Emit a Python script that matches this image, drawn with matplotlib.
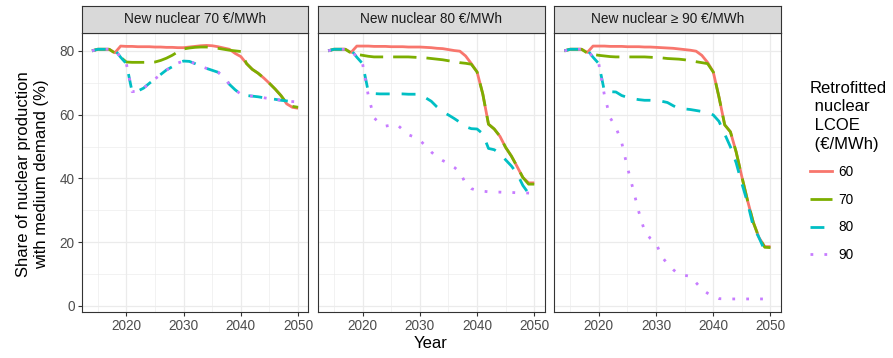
import matplotlib.pyplot as plt
from matplotlib.lines import Line2D
from matplotlib.ticker import MultipleLocator

plt.rcParams['font.family'] = ['Liberation Sans', 'DejaVu Sans']

years = list(range(2014, 2051))
panel_titles = ['New nuclear 70 €/MWh', 'New nuclear 80 €/MWh', 'New nuclear ≥ 90 €/MWh']
retrofit_labels = ['60', '70', '80', '90']

# new nuclear 70 €/MWh
p70_r60 = [80.0, 80.5, 80.5, 80.5, 79.4, 81.5,
           81.4, 81.4, 81.3, 81.3, 81.3, 81.2, 81.2, 81.1, 81.1, 81.0,
           81.0, 81.2, 81.4, 81.6, 81.7, 81.6, 81.3, 80.9, 80.5, 79.2,
           78.2, 76.0, 74.2, 73.0, 71.5, 69.8, 68.0, 66.0, 63.4, 62.3, 62.0]
p70_r70 = [80.0, 80.5, 80.5, 80.5, 79.3, 78.0,
           76.5, 76.4, 76.4, 76.4, 76.4, 76.5, 77.0, 77.7, 78.6, 79.7,
           80.6, 80.9, 81.1, 81.2, 81.2, 81.0, 80.8, 80.5, 80.2, 80.0,
           79.8, 76.0, 74.2, 73.0, 71.5, 69.8, 68.0, 66.0, 63.6, 62.6, 62.3]
p70_r80 = [80.0, 80.5, 80.5, 80.5, 80.3, 78.0,
           76.0, 67.2, 67.4, 68.3, 69.8, 71.2, 72.6, 74.0, 75.0, 76.2,
           76.8, 76.7, 76.0, 75.2, 74.5, 73.9, 73.3, 72.0, 69.5, 67.8,
           66.4, 66.0, 65.8, 65.6, 65.3, 65.0, 64.8, 64.5, 64.3, 64.1, 64.0]
p70_r90 = [80.0, 80.5, 80.5, 80.5, 80.3, 78.0,
           76.0, 67.2, 67.4, 68.3, 69.8, 71.2, 72.6, 74.0, 75.0, 76.2,
           76.8, 76.7, 76.0, 75.2, 74.5, 73.9, 73.3, 72.0, 69.5, 67.8,
           66.4, 66.0, 65.8, 65.6, 65.3, 65.0, 64.8, 64.5, 64.3, 64.1, 64.0]

# new nuclear 80 €/MWh
p80_r60 = [80.0, 80.5, 80.5, 80.5, 79.5, 81.5,
           81.5, 81.5, 81.4, 81.4, 81.4, 81.3, 81.3, 81.3, 81.2, 81.2,
           81.2, 81.1, 81.0, 80.8, 80.7, 80.4, 80.1, 79.9, 78.4, 76.0,
           73.4, 66.5, 57.0, 55.5, 53.2, 49.7, 47.0, 43.7, 40.3, 38.6, 38.6]
p80_r70 = [80.0, 80.5, 80.5, 80.5, 79.3, 78.9,
           78.6, 78.3, 78.1, 78.1, 78.1, 78.1, 78.1, 78.1, 78.1, 78.0,
           77.9, 77.8, 77.6, 77.4, 77.2, 76.9, 76.6, 76.3, 76.1, 75.8,
           73.4, 66.5, 57.0, 55.5, 53.2, 49.7, 47.0, 43.7, 40.3, 38.2, 38.2]
p80_r80 = [80.0, 80.5, 80.5, 80.5, 80.3, 78.0,
           76.0, 67.2, 66.6, 66.5, 66.5, 66.5, 66.5, 66.5, 66.4, 66.4,
           66.4, 65.3, 64.2, 62.4, 60.9, 59.9, 58.8, 57.6, 56.2, 55.6,
           55.5, 54.0, 49.4, 49.0, 47.8, 45.8, 43.9, 41.5, 37.8, 35.3, 35.1]
p80_r90 = [80.0, 80.5, 80.5, 80.5, 80.3, 78.0,
           76.0, 66.0, 59.0, 57.3, 56.4, 56.7, 56.9, 55.3, 53.7, 53.0,
           52.0, 50.2, 48.3, 46.7, 45.6, 44.7, 43.5, 42.0, 38.4, 36.8,
           36.2, 36.0, 35.8, 35.7, 35.7, 35.6, 35.6, 35.5, 35.5, 35.4, 35.3]

# new nuclear >= 90 €/MWh
p90_r60 = [80.0, 80.5, 80.5, 80.5, 79.5, 81.5,
           81.5, 81.5, 81.4, 81.4, 81.4, 81.3, 81.3, 81.3, 81.2, 81.2,
           81.1, 81.0, 80.9, 80.8, 80.6, 80.4, 80.2, 79.9, 78.6, 76.4,
           73.4, 65.5, 56.8, 54.6, 48.3, 40.5, 33.0, 26.2, 21.4, 18.6, 18.6]
p90_r70 = [80.0, 80.5, 80.5, 80.5, 79.3, 78.9,
           78.6, 78.4, 78.2, 78.1, 78.1, 78.1, 78.1, 78.1, 78.1, 78.0,
           77.9, 77.8, 77.6, 77.5, 77.4, 77.2, 76.9, 76.6, 76.3, 76.0,
           73.4, 65.5, 56.8, 54.6, 48.3, 40.5, 33.0, 26.2, 21.4, 18.4, 18.3]
p90_r80 = [80.0, 80.5, 80.5, 80.5, 80.3, 78.0,
           76.0, 67.2, 67.2, 67.1, 66.0, 65.4, 65.0, 64.7, 64.5, 64.5,
           64.4, 64.2, 63.8, 62.8, 61.9, 61.8, 61.6, 61.3, 61.0, 60.6,
           59.9, 57.9, 53.9, 49.9, 44.9, 38.4, 32.3, 24.9, 21.4, 17.3, 16.5]
p90_r90 = [80.0, 80.5, 80.5, 80.5, 80.3, 78.0,
           76.0, 66.0, 59.0, 56.0, 51.3, 43.5, 36.6, 29.5, 23.5, 21.2,
           19.7, 15.5, 13.2, 11.4, 9.9, 9.6, 9.3, 7.3, 5.3, 4.0,
           3.0, 2.3, 2.2, 2.2, 2.2, 2.2, 2.2, 2.2, 2.2, 2.2, 2.2]

panel_data = [
    [p70_r60, p70_r70, p70_r80, p70_r90],
    [p80_r60, p80_r70, p80_r80, p80_r90],
    [p90_r60, p90_r70, p90_r80, p90_r90],
]

colors = ['#F8766D', '#7CAE00', '#00BFC4', '#C77CFF']
dash_styles = [None, (8.4, 3.6), (5, 4.3), (1, 4)]
lw = 2.0

W, H = 893, 358
fig = plt.figure(figsize=(W / 100, H / 100), dpi=100)

lefts = [81.7, 317.9, 554.1]
pw = 226.7
ptop, pbot = 33.0, 311.7
strip_top = 5.5

for i, left in enumerate(lefts):
    ax = fig.add_axes([left / W, 1 - pbot / H, pw / W, (pbot - ptop) / H])
    for j, vals in enumerate(panel_data[i]):
        if dash_styles[j] is None:
            ax.plot(years, vals, color=colors[j], lw=lw, solid_capstyle='butt')
        else:
            ax.plot(years, vals, color=colors[j], lw=lw, dashes=dash_styles[j],
                    dash_capstyle='butt')
    ax.set_xlim(2012.2, 2051.8)
    ax.set_ylim(-1.8, 85.6)
    ax.set_xticks([2020, 2030, 2040, 2050])
    ax.set_yticks([0, 20, 40, 60, 80])
    ax.xaxis.set_minor_locator(MultipleLocator(5))
    ax.yaxis.set_minor_locator(MultipleLocator(10))
    ax.grid(which='major', color='#EBEBEB', lw=0.9)
    ax.grid(which='minor', color='#EBEBEB', lw=0.45)
    ax.set_axisbelow(True)
    for s in ax.spines.values():
        s.set_color('#333333')
        s.set_linewidth(0.8)
    ax.tick_params(which='major', length=3, width=0.8, color='#333333',
                   labelsize=9.8, labelcolor='#4D4D4D', pad=2)
    ax.tick_params(which='minor', length=0)
    if i > 0:
        ax.tick_params(axis='y', length=0, labelleft=False)

    sax = fig.add_axes([left / W, 1 - ptop / H, pw / W, (ptop - strip_top) / H])
    sax.set_facecolor('#D9D9D9')
    sax.set_xticks([])
    sax.set_yticks([])
    for s in sax.spines.values():
        s.set_color('#333333')
        s.set_linewidth(0.8)
    sax.text(0.5, 0.5, panel_titles[i], ha='center', va='center',
             fontsize=9.8, color='#1A1A1A', transform=sax.transAxes)

fig.text(33 / W, 1 - 174 / H, 'Share of nuclear production\nwith medium demand (%)',
         rotation=90, ha='center', va='center', fontsize=12, linespacing=1.25)
fig.text(431 / W, 1 - 343 / H, 'Year', ha='center', va='center', fontsize=12)

handles = []
for j in range(4):
    if dash_styles[j] is None:
        handles.append(Line2D([], [], color=colors[j], lw=lw))
    else:
        handles.append(Line2D([], [], color=colors[j], lw=lw, dashes=dash_styles[j]))
leg = fig.legend(handles, retrofit_labels,
                 title='Retrofitted\n nuclear\n LCOE\n (€/MWh)',
                 loc='upper left', bbox_to_anchor=(803 / W, 1 - 74 / H), frameon=False,
                 fontsize=9.8, title_fontsize=12, handlelength=1.65, handletextpad=0.45,
                 labelspacing=1.0, borderpad=0, alignment='left')
leg.get_title().set_linespacing(1.3)

fig.savefig('out.png', dpi=100)
